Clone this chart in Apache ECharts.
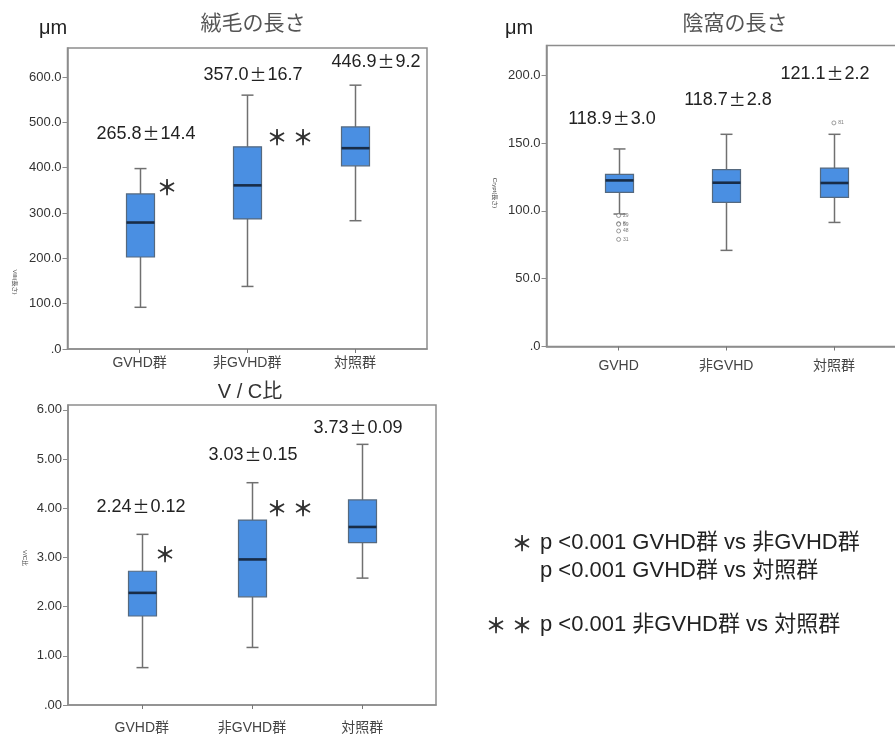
<!DOCTYPE html>
<html>
<head>
<meta charset="utf-8">
<script src="https://cdn.jsdelivr.net/npm/echarts@6/dist/echarts.min.js"></script>
<style>
  html, body { margin: 0; padding: 0; background: #fff; }
  #chart { width: 895px; height: 738px; }
</style>
</head>
<body>
<div id="chart"></div>
<script>
// Group names on the x axes
const groupsVilli = ['GVHD群', '非GVHD群', '対照群'];
const groupsCrypt = ['GVHD', '非GVHD', '対照群'];
const groupsRatio = ['GVHD群', '非GVHD群', '対照群'];

// Box summaries: [min, Q1, median, Q3, max]
const villiBox = [
  [92, 203, 279, 342, 398],
  [138, 287, 361, 446, 560],
  [283, 404, 443, 490, 582]
];
const cryptBox = [
  [97.7, 113.7, 122.5, 127.0, 145.7],
  [70.9, 106.3, 120.8, 130.4, 156.5],
  [91.5, 110.0, 120.6, 131.6, 156.5]
];
const ratioBox = [
  [0.76, 1.81, 2.28, 2.72, 3.47],
  [1.17, 2.20, 2.96, 3.76, 4.52],
  [2.58, 3.30, 3.62, 4.17, 5.30]
];

// Outlying cases of crypt length: [group index, value, case number]
const cryptOutliers = [
  [0, 96.6, '29'],
  [0, 90.6, '8'],
  [0, 90.2, '59'],
  [0, 85.2, '48'],
  [0, 79.0, '31'],
  [2, 164.9, '81']
];

// Mean ± SE per group
const villiMean = [265.8, 357.0, 446.9];
const villiSE = [14.4, 16.7, 9.2];
const cryptMean = [118.9, 118.7, 121.1];
const cryptSE = [3.0, 2.8, 2.2];
const ratioMean = [2.24, 3.03, 3.73];
const ratioSE = [0.12, 0.15, 0.09];

// Tick values for the y axes
const villiTicks = [0, 100, 200, 300, 400, 500, 600];
const cryptTicks = [0, 50, 100, 150, 200];
const ratioTicks = [0, 1, 2, 3, 4, 5, 6];

const LATIN = "'Liberation Sans', 'Noto Sans CJK JP', sans-serif";
const CJK = "'Noto Sans CJK JP', sans-serif";
const FRAME = '#8d8d8d';

function boxRender(params, api) {
  const x = api.value(0);
  const lo = api.coord([x, api.value(1)]);
  const q1 = api.coord([x, api.value(2)]);
  const md = api.coord([x, api.value(3)]);
  const q3 = api.coord([x, api.value(4)]);
  const hi = api.coord([x, api.value(5)]);
  const cx = Math.round(lo[0]) + 0.5;
  const bw = 28, cw = 12;
  const whisker = { stroke: '#707070', lineWidth: 1.5 };
  return {
    type: 'group',
    children: [
      { type: 'line', shape: { x1: cx, y1: hi[1], x2: cx, y2: q3[1] }, style: whisker },
      { type: 'line', shape: { x1: cx, y1: q1[1], x2: cx, y2: lo[1] }, style: whisker },
      { type: 'line', shape: { x1: cx - cw / 2, y1: hi[1], x2: cx + cw / 2, y2: hi[1] }, style: whisker },
      { type: 'line', shape: { x1: cx - cw / 2, y1: lo[1], x2: cx + cw / 2, y2: lo[1] }, style: whisker },
      { type: 'rect', shape: { x: cx - bw / 2, y: q3[1], width: bw, height: q1[1] - q3[1] },
        style: { fill: '#4a8fe2', stroke: '#55697f', lineWidth: 1.2 } },
      { type: 'line', shape: { x1: cx - bw / 2, y1: md[1], x2: cx + bw / 2, y2: md[1] },
        style: { stroke: '#182c47', lineWidth: 2.6 } }
    ]
  };
}

function xAxisOf(gridIndex, names, margin) {
  return {
    type: 'value', gridIndex, min: -0.67, max: 2.67,
    axisLine: { onZero: false, lineStyle: { color: FRAME, width: 1.5 } },
    axisTick: { show: true, customValues: [0, 1, 2], length: 4, lineStyle: { color: '#777' } },
    axisLabel: { customValues: [0, 1, 2], margin, fontSize: 14, fontFamily: LATIN, color: '#444',
      formatter: v => names[Math.round(v)] },
    splitLine: { show: false }
  };
}

function yAxisOf(gridIndex, max, ticks, digits) {
  return {
    type: 'value', gridIndex, min: 0, max,
    axisLine: { show: true, onZero: false, lineStyle: { color: FRAME, width: 1.5 } },
    axisTick: { show: true, customValues: ticks, length: 5, lineStyle: { color: FRAME } },
    axisLabel: { customValues: ticks, margin: 6, fontSize: 13, fontFamily: LATIN, color: '#333',
      formatter: v => v === 0 ? (digits === 1 ? '.0' : '.00') : v.toFixed(digits) },
    splitLine: { show: false }
  };
}

function gridOf(left, top, right, bottom) {
  return { left, top, right, bottom, show: true, borderColor: FRAME, borderWidth: 1.5,
    containLabel: false, outerBoundsMode: 'none' };
}

function boxData(rows) {
  return rows.map((r, i) => [i].concat(r));
}

function meanText(m, s, d) {
  return '{n|' + m.toFixed(d) + '}{p|±}{n|' + s.toFixed(d) + '}';
}

const annoRich = {
  n: { fontFamily: LATIN, fontSize: 18, fill: '#222' },
  p: { fontFamily: CJK, fontSize: 17, fill: '#222', padding: [0, 1, 0, 1] }
};

function anno(x, y, text) {
  return { type: 'text', x, y, style: { text, rich: annoRich, align: 'center', verticalAlign: 'middle' } };
}
function plain(x, y, text, font, size, color, extra) {
  return Object.assign({ type: 'text', x, y, style: Object.assign({ text, fontFamily: font, fontSize: size,
    fill: color, align: 'center', verticalAlign: 'middle' }, extra || {}) });
}
function star(x, y, text) {
  return plain(x, y, text, CJK, 21, '#333', { fontWeight: 'bold' });
}
function vname(x, y, text) {
  return { type: 'text', x, y, rotation: -Math.PI / 2,
    style: { text, fontFamily: LATIN, fontSize: 6, fill: '#444', align: 'center', verticalAlign: 'middle' } };
}

const chart = echarts.init(document.getElementById('chart'), null, { renderer: 'canvas' });

const option = {
  animation: false,
  backgroundColor: '#fff',
  grid: [
    gridOf(67.5, 48, 468, 389),
    gridOf(546.5, 45.5, -11, 391.5),
    gridOf(68, 405, 459, 33)
  ],
  xAxis: [
    xAxisOf(0, groupsVilli, 7),
    xAxisOf(1, groupsCrypt, 13),
    xAxisOf(2, groupsRatio, 16)
  ],
  yAxis: [
    yAxisOf(0, 664, villiTicks, 1),
    yAxisOf(1, 222, cryptTicks, 1),
    yAxisOf(2, 6.1, ratioTicks, 2)
  ],
  series: [
    { type: 'custom', xAxisIndex: 0, yAxisIndex: 0, renderItem: boxRender, data: boxData(villiBox),
      encode: { x: 0, y: [1, 2, 3, 4, 5] } },
    { type: 'custom', xAxisIndex: 1, yAxisIndex: 1, renderItem: boxRender, data: boxData(cryptBox),
      encode: { x: 0, y: [1, 2, 3, 4, 5] } },
    { type: 'custom', xAxisIndex: 2, yAxisIndex: 2, renderItem: boxRender, data: boxData(ratioBox),
      encode: { x: 0, y: [1, 2, 3, 4, 5] } },
    { type: 'scatter', xAxisIndex: 1, yAxisIndex: 1, symbol: 'circle', symbolSize: 4,
      itemStyle: { color: '#fff', borderColor: '#666', borderWidth: 0.8 },
      label: { show: true, position: 'right', distance: 2, fontSize: 5, color: '#555', fontFamily: LATIN,
        formatter: p => p.data[2] },
      data: cryptOutliers.map(o => [o[0], o[1], o[2]]) }
  ],
  graphic: [
    // titles and units
    plain(53, 28, 'μm', LATIN, 20, '#222'),
    plain(253, 22, '絨毛の長さ', CJK, 21, '#555'),
    plain(519, 28, 'μm', LATIN, 20, '#222'),
    plain(735, 22, '陰窩の長さ', CJK, 21, '#555'),
    plain(250, 392, 'V / C比', LATIN, 20, '#333'),

    // rotated axis names
    vname(15, 282, 'Villi(長さ)'),
    vname(495, 193, 'Crypt(長さ)'),
    vname(25, 558, 'V/C比'),

    // mean ± SE, villus length
    anno(146, 134, meanText(villiMean[0], villiSE[0], 1)),
    anno(253, 75, meanText(villiMean[1], villiSE[1], 1)),
    anno(376, 62, meanText(villiMean[2], villiSE[2], 1)),
    star(167, 187, '＊'),
    star(290, 137, '＊ ＊'),

    // mean ± SE, crypt length
    anno(612, 119, meanText(cryptMean[0], cryptSE[0], 1)),
    anno(728, 100, meanText(cryptMean[1], cryptSE[1], 1)),
    anno(825, 74, meanText(cryptMean[2], cryptSE[2], 1)),

    // mean ± SE, V/C ratio
    anno(141, 507, meanText(ratioMean[0], ratioSE[0], 2)),
    anno(253, 455, meanText(ratioMean[1], ratioSE[1], 2)),
    anno(358, 428, meanText(ratioMean[2], ratioSE[2], 2)),
    star(165, 554, '＊'),
    star(290, 508, '＊ ＊'),

    // significance key
    star(522, 543, '＊'),
    plain(540, 543, 'p <0.001 GVHD群 vs 非GVHD群', LATIN, 22, '#222', { align: 'left' }),
    plain(540, 571, 'p <0.001 GVHD群 vs 対照群', LATIN, 22, '#222', { align: 'left' }),
    star(509, 625, '＊ ＊'),
    plain(540, 625, 'p <0.001 非GVHD群 vs 対照群', LATIN, 22, '#222', { align: 'left' })
  ]
};

chart.setOption(option);
</script>
</body>
</html>
